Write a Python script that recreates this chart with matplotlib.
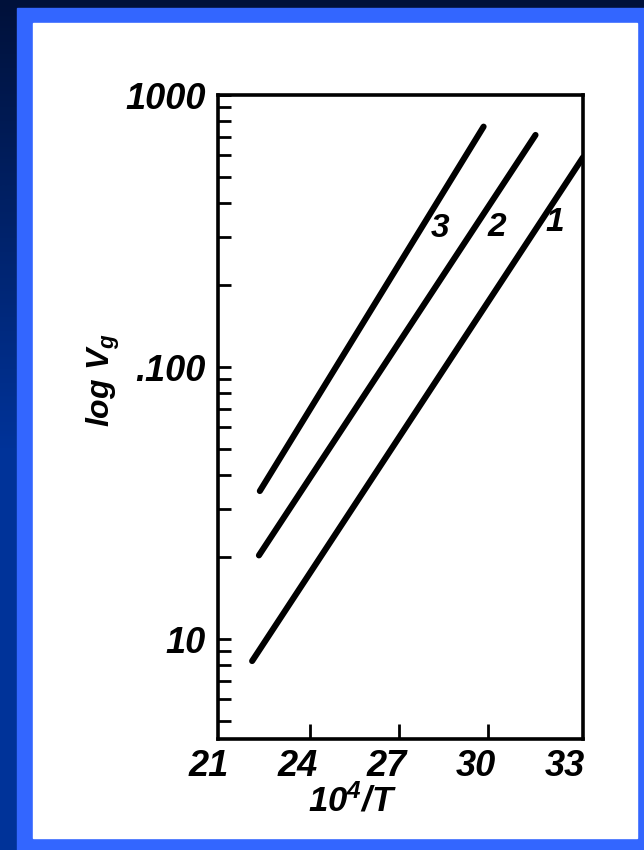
import numpy as np
import matplotlib
matplotlib.use("Agg")
import matplotlib.pyplot as plt
from matplotlib.colors import LinearSegmentedColormap
from matplotlib.patches import Rectangle
from matplotlib.transforms import ScaledTranslation
from matplotlib.ticker import LogLocator, NullFormatter

# Droites log Vg = f(10^4/T) pour trois colonnes
x_ticks = [21, 24, 27, 30, 33]
y_ticks = [10, 100, 1000]
y_labels = ["10", ".100", "1000"]
curve_names = ["1", "2", "3"]
x_ends = [[22.05, 33.2], [22.28, 31.6], [22.31, 29.85]]
vg_ends = [[8.3, 590], [20.3, 713], [35, 765]]
name_x = [32.26, 30.30, 28.38]
name_vg = [341, 327, 324]

face = "Liberation Sans"
plt.rcParams["font.family"] = [face, "DejaVu Sans"]
plt.rcParams["font.style"] = "italic"
plt.rcParams["font.weight"] = "bold"
plt.rcParams["mathtext.fontset"] = "custom"
plt.rcParams["mathtext.it"] = face + ":italic:bold"
plt.rcParams["mathtext.rm"] = face + ":italic:bold"
plt.rcParams["mathtext.default"] = "it"

W, H = 644, 850
fig = plt.figure(figsize=(W / 100, H / 100), dpi=100)

# fond dégradé + cadre bleu + panneau blanc
bg = fig.add_axes([0, 0, 1, 1])
bg.set_axis_off()
bg.set_xlim(0, 1)
bg.set_ylim(0, 1)
grad = np.clip(np.linspace(0, H / 450, 256), 0, 1)[:, None]
cmap = LinearSegmentedColormap.from_list("fond", ["#00113a", "#003399"])
bg.imshow(grad, cmap=cmap, extent=[0, 1, 0, 1], aspect="auto",
          origin="upper", interpolation="bilinear")
bg.add_patch(Rectangle((17 / W, 0), 1, 842 / H, color="#3366ff"))
bg.add_patch(Rectangle((33 / W, 12 / H), 604 / W, 815 / H, color="white"))

ax = fig.add_axes([218 / W, 111 / H, 365 / W, 644 / H])
ax.set_yscale("log")
for xs, ys in zip(x_ends, vg_ends):
    ax.plot(xs, ys, color="black", lw=4.4, solid_capstyle="round")
for name, x, y in zip(curve_names, name_x, name_vg):
    ax.text(x, y, name, fontsize=24, ha="center", va="center")

ax.set_xlim(20.9, 33.2)
ax.set_ylim(4.29, 1000)
ax.set_xticks(x_ticks)
ax.set_xticklabels([str(v) for v in x_ticks])
ax.set_yticks(y_ticks)
ax.set_yticklabels(y_labels)
ax.yaxis.set_minor_locator(LogLocator(base=10, subs=np.arange(2, 10)))
ax.yaxis.set_minor_formatter(NullFormatter())
ax.tick_params(which="both", direction="in", width=2, color="black", labelsize=26)
ax.tick_params(axis="y", which="both", length=9, pad=9)
ax.tick_params(axis="x", length=11, pad=7)
for spine in ax.spines.values():
    spine.set_linewidth(2.6)

xt = ax.xaxis.get_major_ticks()
xt[0].tick1line.set_visible(False)
xt[-1].tick1line.set_visible(False)
shift = ScaledTranslation(-0.12, 0, fig.dpi_scale_trans)
for lab in ax.get_xticklabels():
    lab.set_transform(lab.get_transform() + shift)

fig.text(103 / W, 1 - 380 / H, r"$log\ V_g$", rotation=90,
         ha="center", va="center", fontsize=23)
fig.text(352 / W, 1 - 801 / H, r"$10^4/T$", ha="center", va="center", fontsize=25)

fig.savefig("out.png", dpi=100)
